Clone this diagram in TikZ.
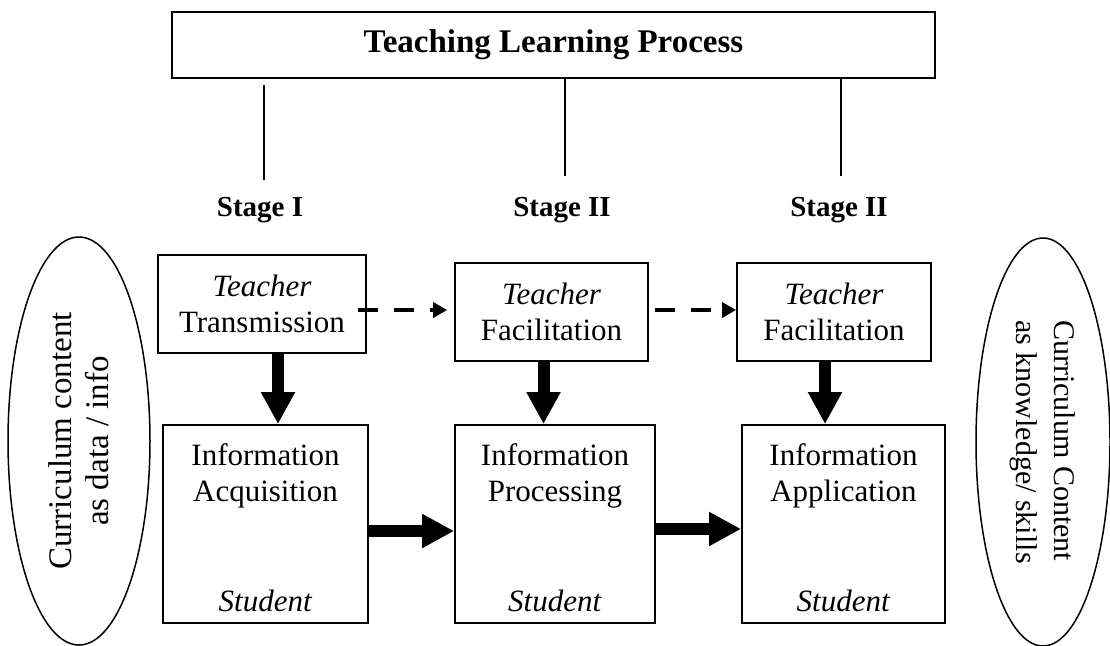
\documentclass[tikz,border=0pt]{standalone}
\usepackage{fontspec}
\setmainfont{Liberation Serif}
\usetikzlibrary{arrows.meta,shapes.geometric}
\begin{document}
\begin{tikzpicture}[x=1pt,y=-1pt,
  box/.style={draw,line width=1.8pt,rectangle,inner sep=0pt},
  title/.style={font=\fontsize{33}{38}\selectfont\bfseries},
  stagelbl/.style={font=\fontsize{29}{34}\selectfont\bfseries,inner sep=0pt},
  body/.style={font=\fontsize{31}{36}\selectfont,align=center,inner sep=0pt},
  oval/.style={draw,ellipse,line width=1.5pt,inner sep=0pt},
  stem/.style={line width=1.5pt},
  fatarrow/.style={line width=12pt,-{Triangle[width=32pt,length=32pt]}},
  hintarrow/.style={line width=4pt,dash pattern=on 20pt off 16pt,
    -{Triangle[width=15pt,length=14pt]}}]
\useasboundingbox (0,0) rectangle (1110,645);

% heading and stage labels
\node[box,line width=1.5pt,minimum width=763pt,minimum height=66pt,title] (top) at (553.5,45) {Teaching Learning Process};
\node[stagelbl] (s1) at (260,210) {Stage I};
\node[stagelbl] (s2) at (562,210) {Stage II};
\node[stagelbl] (s3) at (839,210) {Stage II};
\coordinate (l1) at (264,85);
\draw[stem] (l1) -- (l1 |- 0,180);
\draw[stem] (top.south -| 565,0) -- (565,176);
\draw[stem] (top.south -| 841,0) -- (841,176);

% teacher boxes
\node[box,body,minimum width=208pt,minimum height=98pt] (t1) at (262,304) {\textit{Teacher}\\Transmission};
\node[box,body,minimum width=193pt,minimum height=98pt] (t2) at (551.5,312) {\textit{Teacher}\\Facilitation};
\node[box,body,minimum width=194pt,minimum height=98pt] (t3) at (834,312) {\textit{Teacher}\\Facilitation};

% student boxes
\node[box,minimum width=205pt,minimum height=198pt] (b1) at (265.5,524) {};
\node[box,minimum width=200pt,minimum height=198pt] (b2) at (555,524) {};
\node[box,minimum width=203pt,minimum height=198pt] (b3) at (843.5,524) {};
\foreach \b/\w in {b1/Acquisition,b2/Processing,b3/Application}{
  \node[body,anchor=north] at ([yshift=-19pt]\b.north) {Information\\\w};
  \node[body,anchor=south] at ([yshift=12pt]\b.south) {\textit{Student}};
}

% curriculum ovals
\node[oval,rotate=90,minimum width=408pt,minimum height=142pt,align=center,
  font=\fontsize{33}{37}\selectfont] (e1) at (79,441) {Curriculum content\\as data / info};
\node[oval,rotate=-90,minimum width=408pt,minimum height=134pt,align=left,
  font=\fontsize{30}{38}\selectfont] (e2) at (1043,442) {Curriculum Content\\as knowledge/ skills};

% flow arrows
\draw[fatarrow] ([xshift=16pt]t1.south) -- ([xshift=16pt]t1.south |- b1.north);
\draw[fatarrow] ([xshift=-8pt]t2.south) -- ([xshift=-8pt]t2.south |- b2.north);
\draw[fatarrow] ([xshift=-9pt]t3.south) -- ([xshift=-9pt]t3.south |- b3.north);
\draw[fatarrow] ([yshift=-7pt]b1.east) -- ([yshift=-7pt]b1.east -| b2.west);
\draw[fatarrow] ([yshift=-5pt]b2.east) -- ([yshift=-5pt]b2.east -| b3.west);
\draw[hintarrow,shorten >=7pt] ([xshift=-9pt,yshift=-6pt]t1.east) -- ([yshift=-6pt]t1.east -| t2.west);
\draw[hintarrow,shorten <=6pt] ([yshift=2pt]t2.east) -- ([yshift=2pt]t2.east -| t3.west);
\end{tikzpicture}
\end{document}
